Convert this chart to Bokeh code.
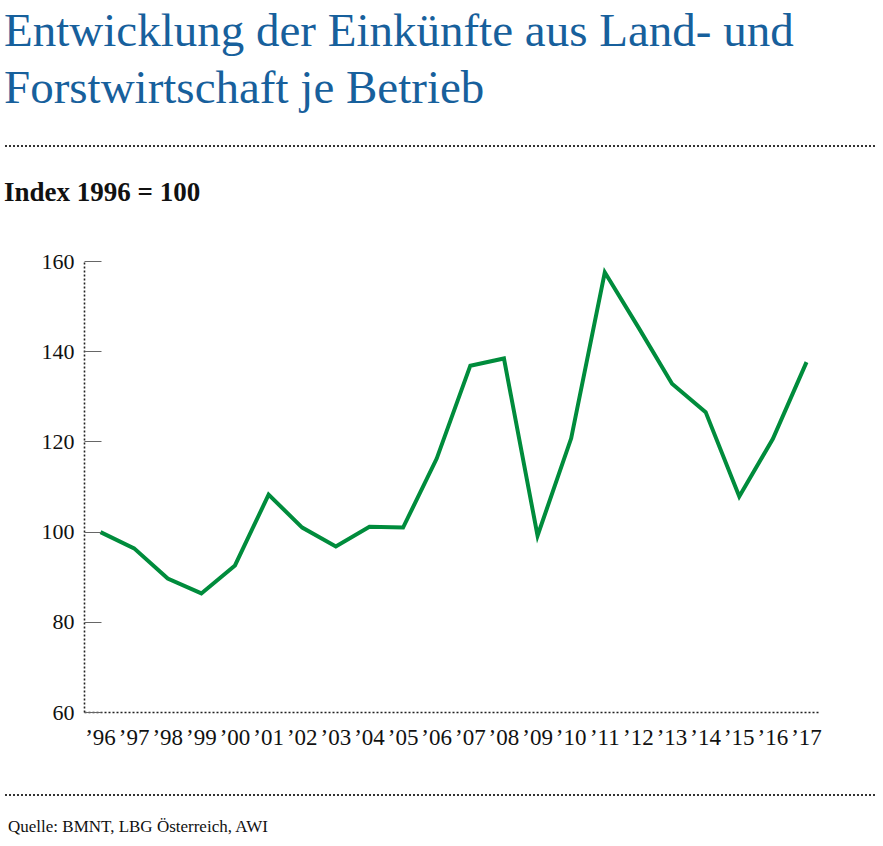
from bokeh.plotting import figure
from bokeh.models import Range1d, FixedTicker, Div
from bokeh.layouts import column
from bokeh.embed import file_html
from bokeh.resources import INLINE

years = list(range(1996, 2018))
index_values = [100.0, 96.4, 89.7, 86.4, 92.6, 108.3, 101.0, 96.8, 101.2, 101.0,
                116.3, 136.9, 138.5, 99.2, 120.8, 157.6, 145.4, 132.9, 126.6, 107.9,
                120.7, 137.7]
tick_labels = ["\u2019" + str(y)[2:] for y in years]
y_ticks = [60, 80, 100, 120, 140, 160]

title_lines = ["Entwicklung der Einkünfte aus Land- und", "Forstwirtschaft je Betrieb"]
subtitle = "Index 1996 = 100"
source = "Quelle: BMNT, LBG Österreich, AWI"

FONT = "Liberation Serif"
BLUE = "#17609c"
GREEN = "#008c3c"
W = 875

def dotted(top, left=5):
    return (f"<div style='position:absolute;left:{left}px;top:{top}px;width:{W - left}px;height:2px;"
            "background-image:linear-gradient(to right,#333 1.6px,transparent 1.6px);"
            "background-size:4px 2px;background-repeat:repeat-x;'></div>")

def txt(s, left, top, size, color, weight="normal"):
    return (f"<div style='position:absolute;left:{left}px;top:{top}px;white-space:nowrap;"
            f"font-family:\"{FONT}\";font-size:{size}px;line-height:{size}px;"
            f"color:{color};font-weight:{weight};'>{s}</div>")

H1 = 228
head_html = (f"<div style='position:relative;width:{W}px;height:{H1}px;'>"
             + txt(title_lines[0], 4, 7, 47, BLUE)
             + txt(title_lines[1], 4, 64, 47, BLUE)
             + dotted(145)
             + txt(subtitle, 4, 179, 27, "#111111", "bold")
             + "</div>")
head = Div(text=head_html, width=W, height=H1, margin=0)

# Chart
H2 = 532
p = figure(width=W, height=H2, x_range=Range1d(1995.524, 2017.416), y_range=Range1d(60, 160),
           toolbar_location=None, output_backend="svg",
           min_border_left=84, min_border_right=55, min_border_top=33, min_border_bottom=48)
p.outline_line_color = None
p.grid.visible = False
p.line(years, index_values, line_color=GREEN, line_width=4, line_join="miter")

p.yaxis.ticker = FixedTicker(ticks=y_ticks)
p.yaxis.axis_line_dash = "2 2"
p.yaxis.axis_line_width = 1.6
p.yaxis.axis_line_color = "#222222"
p.yaxis.major_tick_in = 17
p.yaxis.major_tick_out = 0
p.yaxis.major_tick_line_color = "#666666"
p.yaxis.minor_tick_line_color = None
p.yaxis.major_label_text_font = FONT
p.yaxis.major_label_text_font_size = "22px"
p.yaxis.major_label_text_color = "#111111"
p.yaxis.major_label_standoff = 10

p.xaxis.ticker = FixedTicker(ticks=years)
p.xaxis.major_label_overrides = {y: t for y, t in zip(years, tick_labels)}
p.xaxis.axis_line_dash = "2 2"
p.xaxis.axis_line_width = 1.6
p.xaxis.axis_line_color = "#222222"
p.xaxis.major_tick_line_color = None
p.xaxis.minor_tick_line_color = None
p.xaxis.major_label_text_font = FONT
p.xaxis.major_label_text_font_size = "23px"
p.xaxis.major_label_text_color = "#111111"
p.xaxis.major_label_standoff = 6

# Footer
H3 = 84
foot_html = (f"<div style='position:relative;width:{W}px;height:{H3}px;'>"
             + dotted(34)
             + txt(source, 8, 58, 17, "#111111")
             + "</div>")
foot = Div(text=foot_html, width=W, height=H3, margin=0)

layout = column(head, p, foot, spacing=0)
open("out.html", "w").write(file_html(layout, INLINE))
